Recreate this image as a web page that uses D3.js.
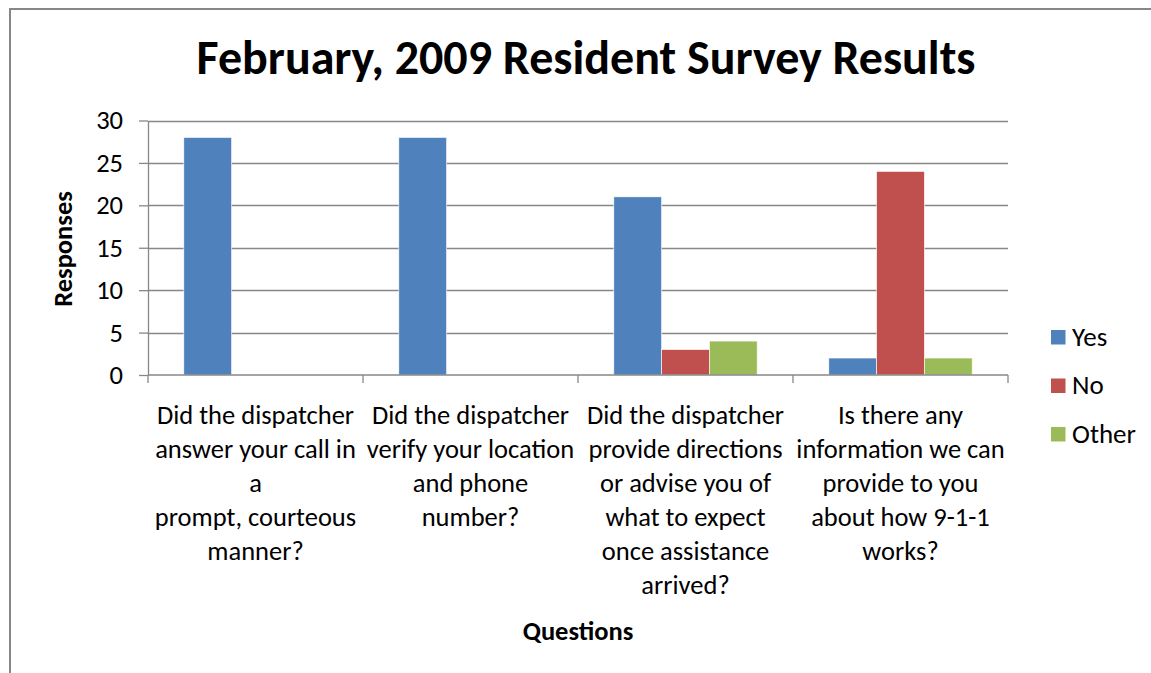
<!DOCTYPE html>
<html><head><meta charset="utf-8">
<script src="https://cdn.jsdelivr.net/npm/d3@7"></script>
<style>
html,body{margin:0;padding:0;background:#fff;}
svg{display:block;font-family:Carlito,Calibri,Lato,"Liberation Sans",sans-serif;}
</style></head>
<body>
<svg id="chart" width="1151" height="673"></svg>
<script>
const categories = [
  ["Did the dispatcher", "answer your call in", "a", "prompt, courteous", "manner?"],
  ["Did the dispatcher", "verify your location", "and phone", "number?"],
  ["Did the dispatcher", "provide directions", "or advise you of", "what to expect", "once assistance", "arrived?"],
  ["Is there any", "information we can", "provide to you", "about how 9-1-1", "works?"]
];
const seriesNames = ["Yes", "No", "Other"];
const yesValues = [28, 28, 21, 2];
const noValues = [0, 0, 3, 24];
const otherValues = [0, 0, 4, 2];
const yTicks = [0, 5, 10, 15, 20, 25, 30];
const colors = ["#4F81BD", "#C0504D", "#9BBB59"];
const title = "February, 2009 Resident Survey Results";

const svg = d3.select("#chart");
const W = 1151, H = 673;
const m = {left: 148, right: 1008, top: 120.5, bottom: 375};
const FS = 26.5;

// outer border
svg.append("rect").attr("x", 10).attr("y", 9).attr("width", W + 20).attr("height", H + 20)
  .attr("fill", "#fff").attr("stroke", "#878787").attr("stroke-width", 2);

const x0 = d3.scaleBand().domain(d3.range(categories.length)).range([m.left, m.right]).paddingInner(0).paddingOuter(0);
const x1 = d3.scaleBand().domain(d3.range(seriesNames.length)).range([0, x0.bandwidth()]).paddingInner(0).paddingOuter(0.75);
const y = d3.scaleLinear().domain([0, 30]).range([m.bottom, m.top]);

// gridlines
svg.append("g").selectAll("line").data(yTicks.filter(d => d > 0)).join("line")
  .attr("x1", m.left).attr("x2", m.right)
  .attr("y1", d => Math.round(y(d)) + 0.5).attr("y2", d => Math.round(y(d)) + 0.5)
  .attr("stroke", "#878787").attr("stroke-width", 1.3);

// bars
const series = [yesValues, noValues, otherValues];
const g = svg.append("g");
series.forEach((vals, si) => {
  g.selectAll(null).data(vals).join("rect")
    .attr("x", (d, i) => x0(i) + x1(si))
    .attr("y", d => y(d))
    .attr("width", x1.bandwidth())
    .attr("height", d => y(0) - y(d))
    .attr("fill", colors[si])
    .attr("stroke", d => d > 0 ? "#fff" : "none").attr("stroke-width", 0.6);
});

// y axis
const yAxis = d3.axisLeft(y).tickValues(yTicks).tickSize(9).tickPadding(16).tickSizeOuter(0);
const ya = svg.append("g").attr("transform", `translate(${m.left},0)`).call(yAxis)
  .attr("font-family", null).attr("font-size", null);
ya.select(".domain").attr("stroke", "#878787").attr("stroke-width", 1.3);
ya.selectAll(".tick line").attr("stroke", "#878787").attr("stroke-width", 1.3);
ya.selectAll(".tick text").attr("font-size", FS).attr("fill", "#000");

// x axis
const xEdges = d3.range(categories.length + 1).map(i => m.left + i * x0.bandwidth());
const xa = svg.append("g");
xa.append("line").attr("x1", m.left).attr("x2", m.right).attr("y1", y(0)).attr("y2", y(0))
  .attr("stroke", "#878787").attr("stroke-width", 1.3);
xa.selectAll(".xt").data(xEdges).join("line").attr("class", "xt")
  .attr("x1", d => d).attr("x2", d => d).attr("y1", y(0)).attr("y2", y(0) + 8)
  .attr("stroke", "#878787").attr("stroke-width", 1.3);

// category labels
categories.forEach((lines, i) => {
  const cx = x0(i) + x0.bandwidth() / 2;
  const t = svg.append("text").attr("text-anchor", "middle").attr("font-size", FS).attr("fill", "#000")
    .attr("x", cx).attr("y", 424);
  lines.forEach((ln, j) => {
    t.append("tspan").attr("x", cx).attr("dy", j === 0 ? 0 : 34).text(ln);
  });
});

// title
svg.append("text").attr("x", 586).attr("y", 74).attr("text-anchor", "middle")
  .attr("font-size", 48).attr("font-weight", "bold").attr("fill", "#000").text(title);

// axis titles
svg.append("text").attr("x", 578).attr("y", 640).attr("text-anchor", "middle")
  .attr("font-size", FS).attr("font-weight", "bold").text("Questions");
svg.append("text").attr("transform", "translate(72,249) rotate(-90)").attr("text-anchor", "middle")
  .attr("font-size", FS).attr("font-weight", "bold").text("Responses");

// legend
const leg = svg.append("g").attr("transform", "translate(1051,330)");
seriesNames.forEach((n, i) => {
  const r = leg.append("g").attr("transform", `translate(0,${i * 48.5})`);
  r.append("rect").attr("width", 14.5).attr("height", 14.5).attr("fill", colors[i]);
  r.append("text").attr("x", 21).attr("y", 15.5).attr("font-size", 27).attr("fill", "#000").text(n);
});
</script>
</body></html>
